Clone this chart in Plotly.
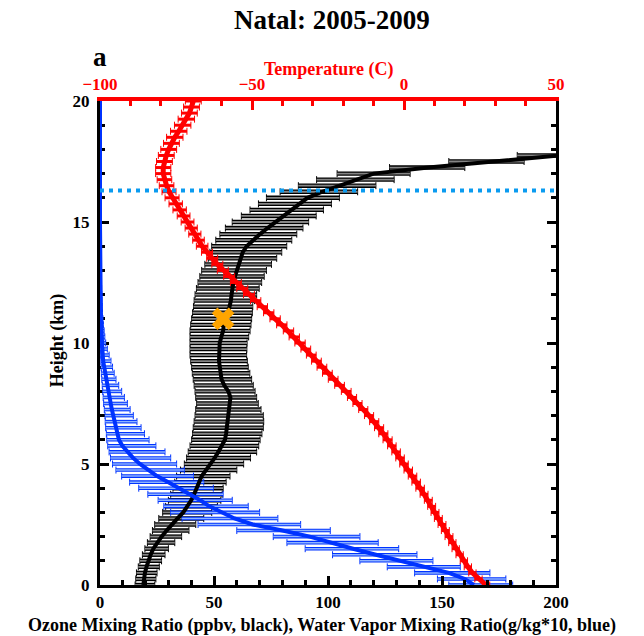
import plotly.graph_objects as go

# ---------------- data ----------------
HEIGHT = [i * 0.25 for i in range(81)]          # km, 0 .. 20
O3_HEIGHT = HEIGHT[:73]                          # km, 0 .. 18

O3_MEAN = [19.0, 19.3, 19.7, 20.4, 21.2, 22.2, 23.4, 25.0,
           27.0, 29.2, 31.4, 34.0, 36.5, 38.4, 40.0, 41.3,
           42.4, 43.5, 44.6, 46.5, 48.5, 50.3, 51.9, 53.6,
           54.8, 55.3, 55.6, 56.0, 56.3, 56.8, 57.0, 57.2,
           56.3, 54.5, 53.3, 52.8, 52.3, 52.2, 52.3, 52.4,
           52.5, 53.2, 54.0, 54.3, 54.8, 56.2, 57.0, 57.4,
           57.7, 58.0, 58.5, 59.2, 60.0, 60.6, 61.4, 62.6,
           64.3, 67.0, 70.2, 73.5, 77.0, 80.2, 83.3, 87.5,
           91.0, 97.5, 105.0, 112.0, 120.0, 144.0, 170.0, 200.0,
           230.0]
O3_LOW = [15.4, 15.7, 16.0, 16.8, 17.5, 18.6, 19.7, 20.8,
          22.0, 23.0, 24.0, 25.8, 27.5, 28.8, 30.0, 31.0,
          32.0, 32.8, 33.6, 35.3, 37.0, 38.0, 38.7, 39.5,
          40.2, 40.6, 40.9, 41.3, 41.7, 42.0, 42.4, 42.0,
          41.7, 41.3, 40.9, 40.5, 40.2, 39.8, 39.5, 39.5,
          39.5, 39.5, 39.5, 39.8, 40.2, 40.6, 41.0, 41.3,
          41.7, 42.3, 43.0, 43.8, 44.6, 46.0, 47.5, 48.2,
          49.0, 50.8, 52.6, 55.0, 58.0, 62.0, 65.8, 69.5,
          73.0, 79.0, 87.0, 95.0, 104.0, 127.0, 153.0, 183.0,
          212.0]
O3_HIGH = [24.0, 24.5, 25.0, 26.0, 27.0, 28.5, 30.0, 32.8,
           35.8, 39.0, 42.0, 45.5, 49.0, 51.5, 53.0, 53.6,
           54.0, 55.3, 57.0, 60.0, 63.0, 66.0, 68.7, 69.6,
           70.2, 71.0, 71.6, 71.8, 71.6, 70.6, 69.4, 68.7,
           68.0, 67.2, 66.5, 65.7, 65.0, 64.6, 64.3, 64.4,
           64.5, 65.2, 65.8, 66.2, 66.5, 66.8, 67.0, 67.8,
           68.7, 69.8, 70.9, 72.0, 73.0, 75.2, 77.5, 79.7,
           81.9, 84.1, 86.3, 89.0, 91.5, 94.8, 98.0, 101.5,
           105.0, 113.0, 121.0, 129.0, 136.0, 160.0, 186.0, 216.0,
           246.0]

T_MEAN = [27.0, 24.5, 22.5, 21.0, 19.7, 18.3, 17.0, 15.9,
          14.8, 13.6, 12.5, 11.3, 10.2, 9.1, 8.0, 6.6,
          5.3, 4.0, 2.8, 1.4, 0.0, -1.3, -2.6, -4.0,
          -5.4, -6.8, -8.2, -9.8, -11.5, -13.4, -15.3, -17.1,
          -19.0, -21.2, -23.3, -25.2, -27.0, -28.8, -30.5, -32.3,
          -34.2, -36.1, -38.0, -40.2, -42.4, -44.5, -46.6, -48.8,
          -51.0, -53.2, -55.3, -57.5, -59.6, -61.4, -63.1, -64.8,
          -66.4, -67.6, -68.8, -70.0, -71.2, -72.5, -73.8, -75.1,
          -76.3, -77.3, -78.1, -78.8, -79.2, -79.2, -78.8, -78.2,
          -77.4, -76.5, -75.4, -74.1, -72.8, -71.6, -70.6, -69.9,
          -69.3]
T_ERR = [1.2, 1.2, 1.2, 1.2, 1.2, 1.2, 1.2, 1.2,
         1.3, 1.3, 1.3, 1.3, 1.3, 1.3, 1.3, 1.3,
         1.4, 1.4, 1.4, 1.4, 1.4, 1.4, 1.4, 1.4,
         1.5, 1.5, 1.5, 1.5, 1.5, 1.5, 1.5, 1.5,
         1.6, 1.6, 1.6, 1.6, 1.6, 1.6, 1.6, 1.6,
         1.7, 1.7, 1.7, 1.7, 1.7, 1.7, 1.7, 1.7,
         1.8, 1.8, 1.8, 1.8, 1.8, 1.8, 1.8, 1.8,
         1.9, 1.9, 2.0, 2.0, 2.1, 2.1, 2.2, 2.2,
         2.3, 2.3, 2.4, 2.4, 2.5, 2.5, 2.6, 2.6,
         2.6, 2.6, 2.7, 2.7, 2.7, 2.7, 2.6, 2.6,
         2.6]

WV_MEAN = [164, 160, 153, 142, 131, 121, 111, 101,
           92, 80, 67, 59, 53, 48, 44, 39.5,
           35, 30, 25, 21, 17.5, 14.5, 12, 9.8,
           8.3, 7.6, 7.0, 6.4, 5.8, 5.2, 4.7, 4.2,
           3.7, 3.1, 2.6, 2.1, 1.7, 1.4, 1.2, 1.0,
           0.8, 0.7, 0.6, 0.5, 0.4, 0.35, 0.3, 0.25,
           0.2, 0.18, 0.15, 0.12, 0.1, 0.08, 0.06, 0.04,
           0.02, 0, 0, 0, 0, 0, 0, 0,
           0, 0, 0, 0, 0, 0, 0, 0,
           0, 0, 0, 0, 0, 0, 0, 0,
           0]
WV_LOW = [153, 148, 138, 126, 114, 102, 90, 82,
          76, 60, 43, 36, 31, 28, 25.5, 21,
          17, 13, 9.5, 7, 5.5, 4.6, 4.0, 3.4,
          3.0, 2.8, 2.5, 2.3, 2.2, 1.9, 1.6, 1.4,
          1.2, 1.0, 0.8, 0.6, 0.5, 0.4, 0.3, 0.25,
          0.2, 0.2, 0.15, 0.12, 0.1, 0.1, 0.08, 0.06,
          0.05, 0.05, 0.04, 0.03, 0.03, 0.02, 0.02, 0.01,
          0, 0, 0, 0, 0, 0, 0, 0,
          0, 0, 0, 0, 0, 0, 0, 0,
          0, 0, 0, 0, 0, 0, 0, 0,
          0]
WV_HIGH = [181, 178, 171, 158, 146, 139, 131, 122,
           114, 101, 88, 78, 70, 65, 58, 54,
           49.7, 45.5, 41, 37, 33.6, 31, 28.5, 24.5,
           21.5, 19.5, 18, 16.2, 14.6, 13.2, 12.0, 10.7,
           9.5, 8.2, 7.0, 6.2, 5.5, 4.8, 4.0, 3.2,
           2.5, 2.1, 1.8, 1.5, 1.3, 1.1, 1.0, 0.9,
           0.8, 0.7, 0.6, 0.5, 0.4, 0.35, 0.3, 0.25,
           0.2, 0.15, 0.1, 0.1, 0.05, 0.05, 0, 0,
           0, 0, 0, 0, 0, 0, 0, 0,
           0, 0, 0, 0, 0, 0, 0, 0,
           0]

TROPOPAUSE_KM = 16.3
MARK_O3, MARK_H = 54.0, 11.0

X_TICKS = [0, 50, 100, 150, 200]
T_TICKS = [-100, -50, 0, 50]
Y_TICKS = [0, 5, 10, 15, 20]

# ---------------- styling ----------------
FONT = "Liberation Serif"
RED = "#FF0000"
BLUE = "#0033FF"
LIGHTBLUE = "#8FB4FF"
GRAY = "#858585"

o3_plus = [h - m for h, m in zip(O3_HIGH, O3_MEAN)]
o3_minus = [m - l for m, l in zip(O3_MEAN, O3_LOW)]
wv_plus = [h - m for h, m in zip(WV_HIGH, WV_MEAN)]
wv_minus = [m - l for m, l in zip(WV_MEAN, WV_LOW)]

fig = go.Figure()


def err_trace(x, y, plus, minus, color, thick, width, xaxis="x"):
    return go.Scatter(
        x=x, y=y, mode="markers", xaxis=xaxis, yaxis="y",
        marker=dict(size=1, color="rgba(0,0,0,0)"),
        error_x=dict(type="data", symmetric=False, array=plus, arrayminus=minus,
                     color=color, thickness=thick, width=width),
        hoverinfo="skip", showlegend=False)


# ozone band: caps, black outline, gray interior
fig.add_trace(err_trace(O3_MEAN, O3_HEIGHT, o3_plus, o3_minus, "black", 1.0, 3.5))
fig.add_trace(err_trace(O3_MEAN, O3_HEIGHT, o3_plus, o3_minus, "black", 4.4, 0))
fig.add_trace(err_trace(O3_MEAN, O3_HEIGHT, o3_plus, o3_minus, GRAY, 1.8, 0))
# water vapour band
fig.add_trace(err_trace(WV_MEAN, HEIGHT, wv_plus, wv_minus, BLUE, 1.0, 3.5))
fig.add_trace(err_trace(WV_MEAN, HEIGHT, wv_plus, wv_minus, BLUE, 3.6, 0))
fig.add_trace(err_trace(WV_MEAN, HEIGHT, wv_plus, wv_minus, LIGHTBLUE, 1.5, 0))
# mean lines
fig.add_trace(go.Scatter(x=O3_MEAN, y=O3_HEIGHT, mode="lines",
                         line=dict(color="black", width=4), showlegend=False))
fig.add_trace(go.Scatter(x=WV_MEAN, y=HEIGHT, mode="lines",
                         line=dict(color=BLUE, width=4), showlegend=False))
# orange marker
fig.add_trace(go.Scatter(x=[MARK_O3], y=[MARK_H], mode="markers",
                         marker=dict(symbol="x", size=20, color="#FFA500",
                                     line=dict(width=0)), showlegend=False))
# temperature (top axis)
fig.add_trace(err_trace(T_MEAN, HEIGHT, T_ERR, T_ERR, RED, 1.0, 3.5, xaxis="x2"))
fig.add_trace(err_trace(T_MEAN, HEIGHT, T_ERR, T_ERR, RED, 3.0, 0, xaxis="x2"))
fig.add_trace(go.Scatter(x=T_MEAN, y=HEIGHT, mode="lines", xaxis="x2", yaxis="y",
                         line=dict(color=RED, width=5), showlegend=False))

tickfont_k = dict(family=FONT, size=17, color="black", weight="bold")
tickfont_r = dict(family=FONT, size=17, color=RED, weight="bold")

fig.update_layout(
    width=644, height=636,
    margin=dict(l=100, r=88, t=101, b=51, autoexpand=False),
    paper_bgcolor="white", plot_bgcolor="white", showlegend=False,
    xaxis=dict(range=[0, 200], tickvals=X_TICKS, ticks="inside", ticklen=9,
               tickwidth=3, tickcolor="black",
               minor=dict(dtick=10, ticks="inside", ticklen=5, tickwidth=3,
                          tickcolor="black"),
               showline=True, linecolor="black", linewidth=3, showgrid=False,
               zeroline=False, tickfont=tickfont_k, automargin=False),
    xaxis2=dict(range=[-100, 50], tickvals=T_TICKS, overlaying="x", side="top",
                anchor="y", ticks="inside", ticklen=9, tickwidth=3, tickcolor=RED,
                minor=dict(dtick=10, ticks="inside", ticklen=5, tickwidth=3,
                           tickcolor=RED),
                showline=True, linecolor=RED, linewidth=4, showgrid=False,
                zeroline=False, tickfont=tickfont_r, automargin=False),
    yaxis=dict(range=[0, 20], tickvals=Y_TICKS, ticks="inside", ticklen=9,
               tickwidth=3, tickcolor="black",
               minor=dict(dtick=1, ticks="inside", ticklen=5, tickwidth=3,
                          tickcolor="black"),
               showline=True, linecolor="black", linewidth=3, mirror="ticks",
               showgrid=False, zeroline=False, tickfont=tickfont_k,
               ticklabelstandoff=4,
               layer="below traces", automargin=False),
)

fig.add_shape(type="line", xref="paper", x0=0, x1=1, yref="y",
              y0=TROPOPAUSE_KM, y1=TROPOPAUSE_KM,
              line=dict(color="#0A9BF0", width=4, dash="4px,5px"))

ann = dict(showarrow=False, xref="paper", yref="paper")
fig.add_annotation(text="<b>Natal: 2005-2009</b>", x=0.509, y=1.167,
                   xanchor="center", yanchor="middle",
                   font=dict(family=FONT, size=27, color="black"), **ann)
fig.add_annotation(text="<b>a</b>", x=0.0, y=1.091, xanchor="center",
                   yanchor="middle", font=dict(family=FONT, size=27, color="black"), **ann)
fig.add_annotation(text="<b>Temperature (C)</b>", x=0.5, y=1.066,
                   xanchor="center", yanchor="middle",
                   font=dict(family=FONT, size=18, color=RED), **ann)
fig.add_annotation(text="<b>Height (km)</b>", x=-0.094, y=0.506, textangle=-90,
                   xanchor="center", yanchor="middle",
                   font=dict(family=FONT, size=18, color="black"), **ann)
fig.add_annotation(text="<b>Ozone Mixing Ratio (ppbv, black), Water Vapor Mixing Ratio(g/kg*10, blue)</b>",
                   x=0.487, y=-0.0842, xanchor="center", yanchor="middle",
                   font=dict(family=FONT, size=18, color="black"), **ann)

fig.write_html("out.html")
